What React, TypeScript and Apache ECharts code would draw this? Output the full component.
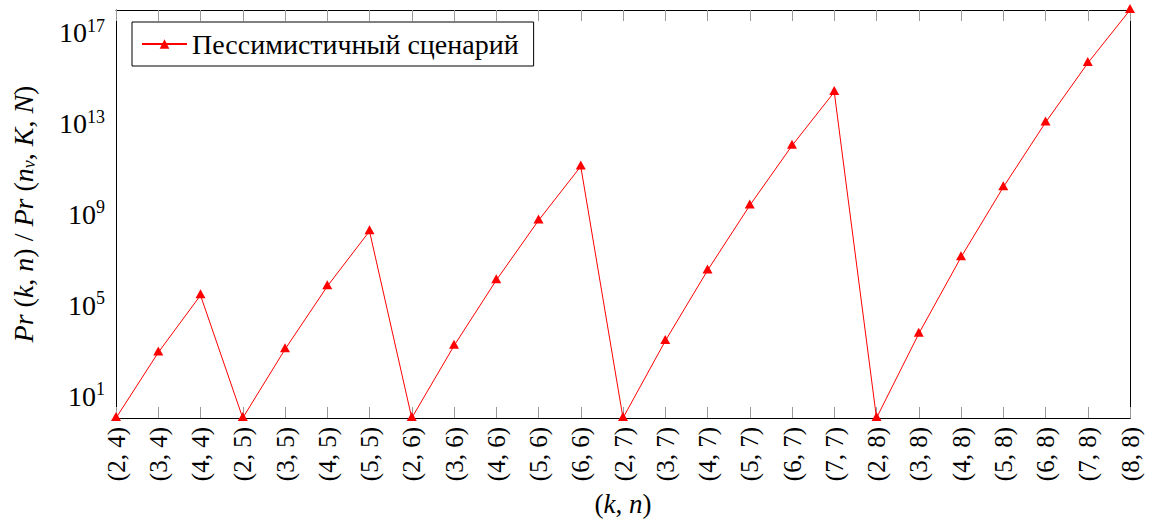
import React, { useEffect, useRef } from 'react';
import * as echarts from 'echarts';

// (k, n) pairs along the horizontal axis
const categories = [
  '(2, 4)', '(3, 4)', '(4, 4)',
  '(2, 5)', '(3, 5)', '(4, 5)', '(5, 5)',
  '(2, 6)', '(3, 6)', '(4, 6)', '(5, 6)', '(6, 6)',
  '(2, 7)', '(3, 7)', '(4, 7)', '(5, 7)', '(6, 7)', '(7, 7)',
  '(2, 8)', '(3, 8)', '(4, 8)', '(5, 8)', '(6, 8)', '(7, 8)', '(8, 8)',
];

// Pr(k, n) / Pr(n_v, K, N), pessimistic scenario
const pessimisticRatio = [
  1, 7.6e2, 2.5e5,
  1, 1.05e3, 6.2e5, 1.66e8,
  1, 1.5e3, 1.15e6, 4.9e8, 1.17e11,
  1, 2.45e3, 3.1e6, 2.24e9, 9.6e11, 2.2e14,
  1, 5.1e3, 1.18e7, 1.42e10, 1.0e13, 4.1e15, 8.9e17,
];

const yTickValues = [1e1, 1e5, 1e9, 1e13, 1e17];
const seriesName = 'Пессимистичный сценарий';

const FONT = "'Liberation Serif', 'DejaVu Serif', serif";
const TICK_COLOR = '#9a9a9a';

export default function App() {
  const ref = useRef<HTMLDivElement>(null);

  useEffect(() => {
    if (!ref.current) return;
    const chart = echarts.init(ref.current, undefined, { renderer: 'svg' });
    const yMin = 1;
    const yMax = Math.max(...pessimisticRatio);

    const tickStyle = { inside: true, length: 11, lineStyle: { color: TICK_COLOR, width: 1 } };
    const lineStyle = { show: true, lineStyle: { color: '#000', width: 1 } };

    chart.setOption({
      animation: false,
      grid: { left: 116, top: 10, width: 1014, height: 409 },
      legend: {
        left: 132,
        top: 22,
        padding: [8, 15, 8, 9],
        itemWidth: 45,
        itemHeight: 12,
        borderColor: '#000',
        borderWidth: 1,
        borderRadius: 0,
        backgroundColor: '#fff',
        textStyle: { fontFamily: FONT, fontSize: 28, color: '#000', lineHeight: 27 },
        data: [seriesName],
      },
      xAxis: [
        {
          type: 'category',
          data: categories,
          boundaryGap: false,
          position: 'bottom',
          axisLine: lineStyle,
          axisTick: { ...tickStyle, interval: 0 },
          axisLabel: {
            interval: 0,
            rotate: 90,
            margin: 9,
            fontFamily: FONT,
            fontSize: 25,
            color: '#000',
          },
          splitLine: { show: false },
          name: '({i|k}, {i|n})',
          nameLocation: 'middle',
          nameGap: 72,
          nameTextStyle: {
            fontFamily: FONT,
            fontSize: 27,
            color: '#000',
            rich: { i: { fontFamily: FONT, fontSize: 27, fontStyle: 'italic', color: '#000' } },
          },
        },
        {
          type: 'category',
          data: categories,
          boundaryGap: false,
          position: 'top',
          axisLine: lineStyle,
          axisTick: { ...tickStyle, interval: 0 },
          axisLabel: { show: false },
          splitLine: { show: false },
        },
      ],
      yAxis: [
        {
          type: 'log',
          logBase: 10,
          min: yMin,
          max: yMax,
          position: 'left',
          axisLine: lineStyle,
          axisTick: { ...tickStyle, customValues: yTickValues },
          minorTick: { show: false },
          splitLine: { show: false },
          axisLabel: {
            customValues: yTickValues,
            margin: 11,
            formatter: (v: number) => `{b|10}{s|${Math.round(Math.log10(v))}}`,
            rich: {
              b: { fontFamily: FONT, fontSize: 28, color: '#000', lineHeight: 30, verticalAlign: 'bottom' },
              s: { fontFamily: FONT, fontSize: 18, color: '#000', lineHeight: 18, verticalAlign: 'top' },
            },
          },
          name:
            '{i|Pr} ({i|k}, {i|n}) / {i|Pr} ({i|n}{s|v}, {i|K}, {i|N})',
          nameLocation: 'middle',
          nameRotate: 90,
          nameGap: 78,
          nameTextStyle: {
            fontFamily: FONT,
            fontSize: 28,
            color: '#000',
            rich: {
              i: { fontFamily: FONT, fontSize: 28, fontStyle: 'italic', color: '#000', lineHeight: 29, verticalAlign: 'top' },
              s: { fontFamily: FONT, fontSize: 18, fontStyle: 'italic', color: '#000', lineHeight: 18, verticalAlign: 'bottom' },
            },
          },
        },
        {
          type: 'log',
          logBase: 10,
          min: yMin,
          max: yMax,
          position: 'right',
          axisLine: lineStyle,
          axisTick: { ...tickStyle, customValues: yTickValues },
          minorTick: { show: false },
          splitLine: { show: false },
          axisLabel: { show: false },
        },
      ],
      series: [
        {
          type: 'line',
          name: seriesName,
          data: pessimisticRatio,
          xAxisIndex: 0,
          yAxisIndex: 0,
          symbol: 'triangle',
          symbolSize: [10, 9],
          symbolOffset: [0, -1.5],
          clip: false,
          lineStyle: { color: '#ff0000', width: 1 },
          itemStyle: { color: '#ff0000' },
        },
      ],
    });

    return () => chart.dispose();
  }, []);

  return (
    <div
      ref={ref}
      style={{ position: 'fixed', left: 0, top: 0, width: 1153, height: 522, background: '#fff' }}
    />
  );
}
